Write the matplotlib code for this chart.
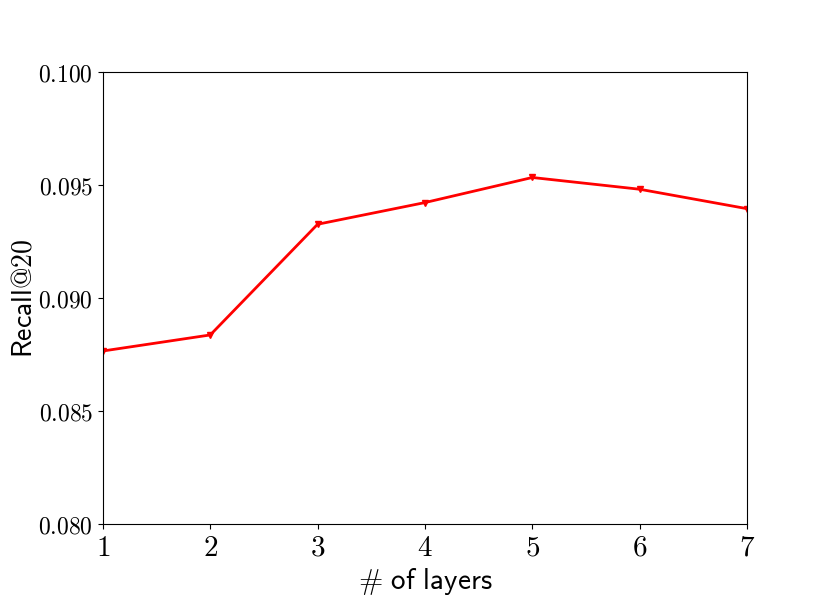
import matplotlib
matplotlib.use("Agg")
import matplotlib.pyplot as plt
from matplotlib.ticker import FuncFormatter

plt.rcParams["mathtext.fontset"] = "cm"

layers = [1, 2, 3, 4, 5, 6, 7]
recall = [0.08765, 0.08836, 0.09326, 0.09422, 0.09533, 0.09481, 0.09395]

fig = plt.figure(figsize=(8.3, 6), dpi=100)
ax = fig.add_axes([0.124, 0.127, 0.776, 0.753])

ax.plot(layers, recall, color="red", linewidth=2, marker="v", markersize=5)

ax.set_xlim(1, 7)
ax.set_ylim(0.080, 0.100)
ax.set_xticks(layers)
ax.set_yticks([0.080, 0.085, 0.090, 0.095, 0.100])
ax.xaxis.set_major_formatter(FuncFormatter(lambda v, p: f"${int(v)}$"))
ax.yaxis.set_major_formatter(FuncFormatter(lambda v, p: f"${v:.3f}$"))
ax.tick_params(axis="x", labelsize=21)
ax.tick_params(axis="y", labelsize=17)

ax.set_xlabel(r"$\#\ \mathsf{of\ layers}$", fontsize=21, labelpad=3)
ax.set_ylabel(r"$\mathsf{Recall@20}$", fontsize=20, labelpad=1)

fig.savefig("out.png", dpi=100)
